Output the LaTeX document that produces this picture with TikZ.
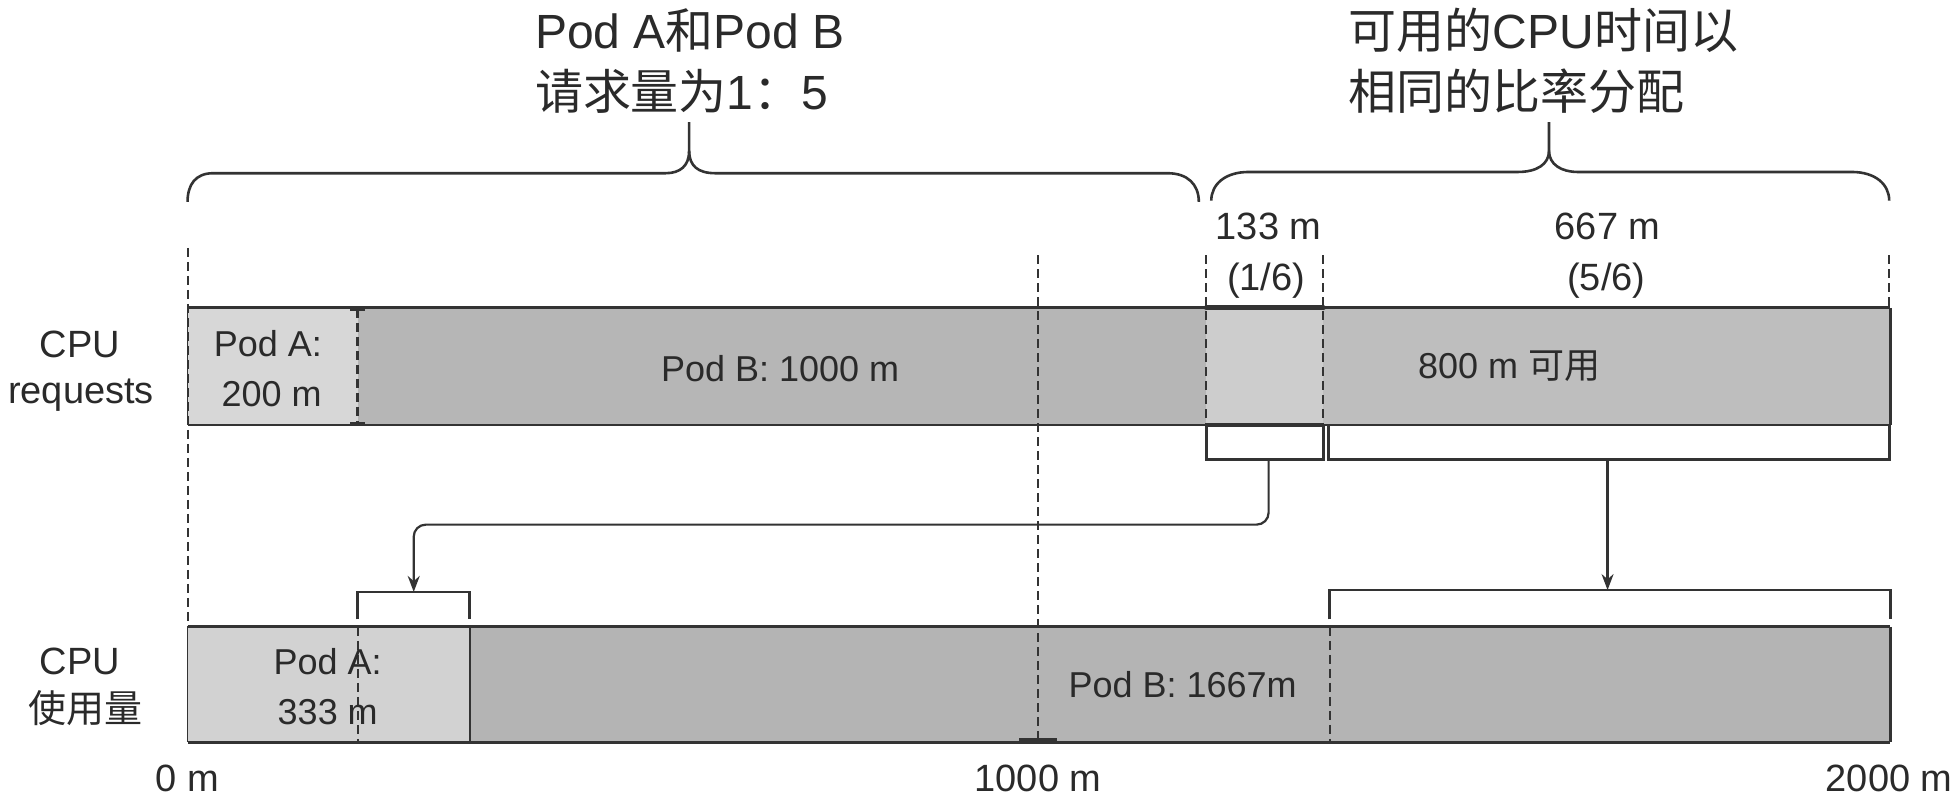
\documentclass[tikz,border=0pt]{standalone}
\usepackage{fontspec}
\setmainfont{Liberation Sans}
\newfontfamily\cjk{Noto Sans CJK SC}
\usetikzlibrary{arrows.meta}
\definecolor{edge}{HTML}{333333}
\definecolor{txt}{HTML}{2A2A2A}
\definecolor{podAreq}{HTML}{D7D7D7}
\definecolor{podBreq}{HTML}{B6B6B6}
\definecolor{sharefill}{HTML}{CDCDCD}
\definecolor{availfill}{HTML}{BEBEBE}
\definecolor{podAuse}{HTML}{D2D2D2}
\definecolor{podBuse}{HTML}{B4B4B4}
\tikzset{
  titletext/.style={font=\fontsize{24}{30}\selectfont, text=txt, inner sep=0pt, anchor=base west},
  sidetext/.style={font=\fontsize{19}{23}\selectfont, text=txt, inner sep=0pt, anchor=base},
  bartext/.style={font=\fontsize{18}{22}\selectfont, text=txt, inner sep=0pt, anchor=base},
  guide/.style={draw=edge, line width=1pt, dash pattern=on 4.5pt off 2.5pt},
  barline/.style={draw=edge, line width=1.4pt},
  thinline/.style={draw=edge, line width=0.8pt},
  bracketline/.style={draw=edge, line width=1.4pt},
  bracestroke/.style={draw=edge, line width=1.3pt},
  conn/.style={draw=edge, line width=1.1pt, -{Stealth[length=8pt,width=6pt]}, rounded corners=6pt},
}
\begin{document}
\begin{tikzpicture}[x=0.6232pt,y=-0.6232pt]
\useasboundingbox (0,0) rectangle (1568,644);

% ---------- titles ----------
\node[titletext] (t1a) at (429,39) {Pod A{\cjk 和}Pod B};
\node[titletext] (t1b) at (429,88) {{\cjk 请求量为}1{\cjk ：}5};
\node[titletext] (t2a) at (1082,39) {{\cjk 可用的}CPU{\cjk 时间以}};
\node[titletext] (t2b) at (1082,88) {{\cjk 相同的比率分配}};

% ---------- braces ----------
\draw[bracestroke] (150.5,162) .. controls (150.5,148) and (157,139) .. (171,139) -- (534,139)
  .. controls (546,139) and (553,133) .. (553,121) -- (553,98);
\draw[bracestroke] (553,121) .. controls (553,133) and (560,139) .. (574,139) -- (937,139)
  .. controls (953,139) and (962,148) .. (962,162);
\draw[bracestroke] (972,161) .. controls (972,148) and (983,138) .. (1002,138) -- (1218,138)
  .. controls (1233,138) and (1243,132) .. (1243,121) -- (1243,98);
\draw[bracestroke] (1243,121) .. controls (1243,132) and (1253,138) .. (1266,138) -- (1486,138)
  .. controls (1505,138) and (1516,148) .. (1516,161);

% ---------- share labels ----------
\node[sidetext] (s133) at (1018,192.5) {133 m};
\node[sidetext] (s16) at (1016,233) {(1/6)};
\node[sidetext] (s667) at (1290,192.5) {667 m};
\node[sidetext] (s56) at (1289,233) {(5/6)};

% ---------- request bar ----------
\fill[podAreq] (150.5,247) rectangle (287,341);
\fill[podBreq] (287,247) rectangle (968,341);
\fill[sharefill] (968,247) rectangle (1062,341);
\fill[availfill] (1062,247) rectangle (1517,341);
\draw[barline] (150.5,247) -- (1517,247);
\draw[barline] (150.5,341) -- (1517,341);
\draw[barline] (1517,247) -- (1517,341);
\draw[thinline] (150.5,247) -- (150.5,341);
\draw[draw=edge, line width=2.4pt, line cap=round] (968,247) -- (1062,247);
\draw[draw=edge, line width=1.8pt] (968,341) -- (1062,341);
% Pod A / Pod B divider
\draw[guide, line width=1.2pt] (287,248) -- (287,340);
\draw[draw=edge, line width=1.6pt] (281,248) -- (293,248) (281,340) -- (293,340);

% ---------- usage bar ----------
\fill[podAuse] (150.5,503) rectangle (377,595.5);
\fill[podBuse] (377,503) rectangle (1517,595.5);
\draw[barline] (150.5,503) -- (1517,503);
\draw[barline] (150.5,595.5) -- (1517,595.5);
\draw[barline] (1517,503) -- (1517,595.5);
\draw[thinline] (150.5,503) -- (150.5,595.5);
\draw[thinline] (377,503) -- (377,595.5);

% ---------- dashed guides ----------
\draw[guide] (150.5,199) -- (150.5,503);
\draw[guide] (968,205) -- (968,341);
\draw[guide] (1062,205) -- (1062,341);
\draw[guide] (1516,205) -- (1516,247);
\draw[guide] (833,205) -- (833,595);
\draw[guide] (287,503) -- (287,595.5);
\draw[guide] (1067,503) -- (1067,595.5);
\draw[draw=edge, line width=0.8pt] (828,247) -- (838,247) (828,341) -- (838,341)
  (828,421) -- (838,421) (828,503) -- (838,503);
\draw[draw=edge, line width=2pt] (818,594) -- (848,594);

% ---------- bar labels ----------
\node[sidetext] (rq1) at (64,287) {CPU};
\node[sidetext] (rq2) at (65,324) {requests};
\node[sidetext] (us1) at (64,541.5) {CPU};
\node[sidetext] (us2) at (69,580) {\cjk 使用量};

\node[bartext] (pa1) at (215,286) {Pod A:};
\node[bartext] (pa2) at (218,326) {200 m};
\node[bartext] (pb) at (626,306) {Pod B: 1000 m};
\node[bartext] (av) at (1211,304) {800 m {\cjk 可用}};

\node[bartext] (ua1) at (263,541.5) {Pod A:};
\node[bartext] (ua2) at (263,581.5) {333 m};
\node[bartext] (ub) at (949,560) {Pod B: 1667m};

% ---------- axis ----------
\node[sidetext] (ax0) at (150.5,635) {0 m};
\node[sidetext] (ax1) at (833,635) {1000 m};
\node[sidetext] (ax2) at (1516,635) {2000 m};

% ---------- brackets ----------
\draw[bracketline] (968,341) -- (968,369) -- (1062,369) -- (1062,341);
\draw[bracketline] (1066,341) -- (1066,369) -- (1516,369) -- (1516,341);
\draw[bracketline] (287,497) -- (287,475) -- (377,475) -- (377,497);
\draw[bracketline] (1067,497) -- (1067,473.5) -- (1517,473.5) -- (1517,497);

\coordinate (srcA) at (1018,369);
\coordinate (srcB) at (1290,369);
\coordinate (bendA) at (1018,421);
\coordinate (bendB) at (332,421);
\coordinate (dstA) at (332,475);
\coordinate (dstB) at (1290,473.5);

\draw[conn] (srcA) -- (bendA) -- (bendB) -- (dstA);
\draw[conn] (srcB) -- (dstB);
\end{tikzpicture}
\end{document}
